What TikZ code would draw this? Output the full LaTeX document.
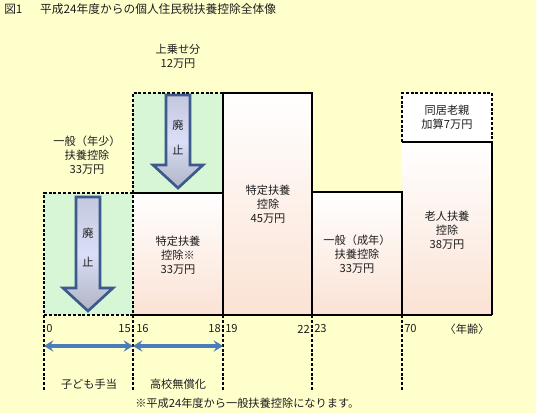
\documentclass[tikz,border=0pt]{standalone}
\usepackage{fontspec}
\setmainfont{Noto Sans CJK JP}
\usetikzlibrary{arrows.meta}
\definecolor{bgyellow}{RGB}{255,255,204}
\definecolor{greenfill}{RGB}{214,246,214}
\definecolor{peach}{RGB}{251,226,212}
\definecolor{arrowborder}{RGB}{60,90,140}
\definecolor{arrowtop}{RGB}{196,200,222}
\definecolor{arrowmid}{RGB}{218,222,248}
\definecolor{arrowbot}{RGB}{176,180,196}
\definecolor{spanblue}{RGB}{74,126,187}
\definecolor{txt}{RGB}{30,30,30}
\begin{document}
\begin{tikzpicture}[x=0.75pt,y=-0.75pt,
  font=\fontsize{8.4}{10.5}\selectfont,
  lbl/.style={text=txt,align=center,inner sep=0pt},
  dashline/.style={draw=black,line width=0.8pt,dash pattern=on 2.2pt off 1.4pt},
  solidline/.style={draw=black,line width=0.9pt},
  blockarrow/.style={draw=arrowborder,line width=2pt,line join=miter,
    top color=arrowtop,bottom color=arrowbot,middle color=arrowmid},
  spanarrow/.style={draw=spanblue,line width=2.8pt,{Stealth[length=7pt,width=8.5pt,inset=2.5pt]}-{Stealth[length=7pt,width=8.5pt,inset=2.5pt]}}
]
\fill[bgyellow] (0,0) rectangle (536,413);
\useasboundingbox (0,0) rectangle (536,413);

% fills
\fill[greenfill] (44,193) rectangle (133,315);
\fill[greenfill] (133,93) rectangle (223,193);
\shade[top color=white,bottom color=peach] (133,193) rectangle (223,315);
\shade[top color=white,bottom color=peach] (223,93) rectangle (312,315);
\shade[top color=white,bottom color=peach] (312,192) rectangle (402,315);
\shade[top color=white,bottom color=peach] (402,142) rectangle (492,315);
\fill[white] (402,93) rectangle (492,142);

% dashed borders and axis lines
\draw[dashline] (44,390) -- (44,193) -- (133,193);
\draw[dashline] (133,390) -- (133,93) -- (223,93);
\draw[dashline] (44,315) -- (133,315);
\draw[dashline] (223,315) -- (223,390);
\draw[dashline] (312,315) -- (312,390);
\draw[dashline] (402,315) -- (402,390);
\draw[dashline] (402,142) -- (402,93) -- (492,93) -- (492,142);

% solid borders
\draw[solidline] (133,193) -- (223,193);
\draw[solidline] (223,315) -- (223,93) -- (312,93) -- (312,315);
\draw[solidline] (312,192) -- (402,192) -- (402,315);
\draw[solidline] (402,142) -- (492,142) -- (492,315);
\draw[solidline] (133,315) -- (492,315);

% block arrows
\path[blockarrow] (76,197) -- (100,197) -- (100,288) -- (113,288) -- (88,311) -- (63,288) -- (76,288) -- cycle;
\path[blockarrow] (166,95) -- (190,95) -- (190,165) -- (203,165) -- (178,188) -- (153,165) -- (166,165) -- cycle;
\node[lbl] (hai1) at (88,233) {廃};
\node[lbl] (shi1) at (88,262) {止};
\node[lbl] (hai2) at (178,125) {廃};
\node[lbl] (shi2) at (178,150) {止};

% title
\node[lbl,anchor=west,font=\fontsize{8.8}{10.5}\selectfont] (title) at (4,9) {図1\hspace{1.5em}平成24年度からの個人住民税扶養控除全体像};

% box labels
\node[lbl] (uwanose) at (178,56) {上乗せ分\\12万円};
\node[lbl] (nensho) at (87,155) {一般（年少）\\扶養控除\\33万円};
\node[lbl] (tokutei1) at (178,255) {特定扶養\\控除※\\33万円};
\node[lbl] (tokutei2) at (268,204) {特定扶養\\控除\\45万円};
\node[lbl] (seinen) at (357,254) {一般（成年）\\扶養控除\\33万円};
\node[lbl] (rojin) at (447,230) {老人扶養\\控除\\38万円};
\node[lbl] (doukyo) at (447,117) {同居老親\\加算7万円};

% ages
\node[lbl,anchor=west] (a0) at (46,329) {0};
\node[lbl,anchor=east] (a15) at (131,329) {15};
\node[lbl,anchor=west] (a16) at (136,329) {16};
\node[lbl,anchor=east] (a18) at (221,329) {18};
\node[lbl,anchor=west] (a19) at (225,329) {19};
\node[lbl,anchor=east] (a22) at (310,329) {22};
\node[lbl,anchor=west] (a23) at (314,329) {23};
\node[lbl,anchor=west] (a70) at (404,329) {70};
\node[lbl] (nenrei) at (467,329) {〈年齢〉};

% span arrows
\coordinate (s0) at (44,346);
\coordinate (s15) at (133,346);
\coordinate (s18) at (223,346);
\draw[spanarrow] (s0) -- (s15);
\draw[spanarrow] (s15) -- (s18);
\node[lbl] (kodomo) at (89,384) {子ども手当};
\node[lbl] (koukou) at (178,384) {高校無償化};

% footnote
\node[lbl,anchor=west] (note) at (135,403) {※平成24年度から一般扶養控除になります。};
\end{tikzpicture}
\end{document}
